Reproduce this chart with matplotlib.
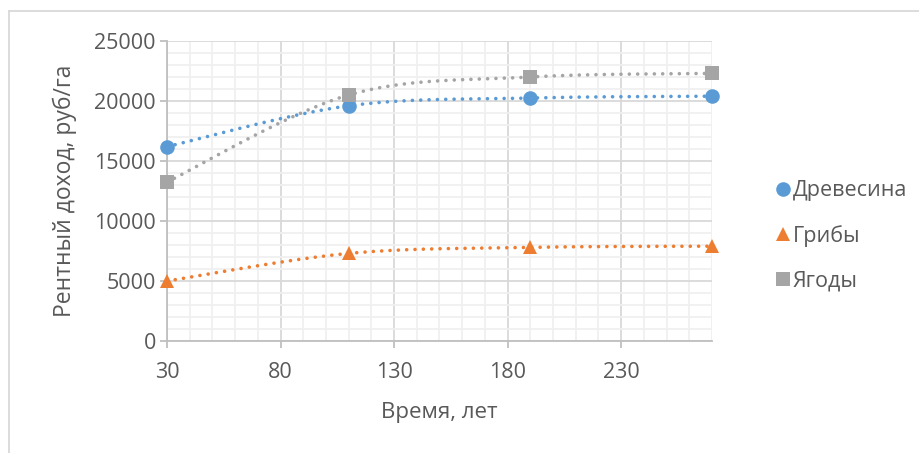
import numpy as np
import matplotlib
matplotlib.use("Agg")
import matplotlib.pyplot as plt
from matplotlib.lines import Line2D
from matplotlib.ticker import MultipleLocator

plt.rcParams['font.family'] = ['Open Sans', 'DejaVu Sans']

years = [30, 110, 190, 270]
wood = [16200, 19600, 20250, 20400]
mushrooms = [5000, 7300, 7800, 7900]
berries = [13250, 20500, 22000, 22300]

names = ['Древесина', 'Грибы', 'Ягоды']
colors = ['#5B9BD5', '#ED7D31', '#A5A5A5']
markers = ['o', '^', 's']
text_color = '#595959'
fs = 15.5


def smooth(x, y, n=60):
    # cardinal spline through the points (bezier with 1/6 tangents), like office charts
    p = np.column_stack([x, y]).astype(float)
    p = np.vstack([p[0], p, p[-1]])
    out = []
    for i in range(1, len(p) - 2):
        p0, p1, p2, p3 = p[i - 1], p[i], p[i + 1], p[i + 2]
        c1 = p1 + (p2 - p0) / 6.0
        c2 = p2 - (p3 - p1) / 6.0
        t = np.linspace(0, 1, n)[:, None]
        seg = ((1 - t) ** 3) * p1 + 3 * ((1 - t) ** 2) * t * c1 + 3 * (1 - t) * t ** 2 * c2 + t ** 3 * p2
        out.append(seg if i == 1 else seg[1:])
    seg = np.vstack(out)
    return seg[:, 0], seg[:, 1]


fig = plt.figure(figsize=(9.2, 4.53), dpi=100)
ax = fig.add_axes([167 / 920, 1 - 341 / 453, (712 - 167) / 920, 300 / 453])

for vals, c, m, name in zip([wood, mushrooms, berries], colors, markers, names):
    sx, sy = smooth(years, vals)
    ax.plot(sx, sy, color=c, lw=2.6, linestyle=(0, (0.01, 2.3)),
            dash_capstyle='round', zorder=3, clip_on=False)
    ax.plot(years, vals, linestyle='none', marker=m, color=c, markersize=10.5,
            markeredgewidth=0, zorder=4, label=name, clip_on=False)

ax.set_xlim(30, 270)
ax.set_ylim(0, 25000)
ax.xaxis.set_major_locator(MultipleLocator(50))
ax.xaxis.set_minor_locator(MultipleLocator(10))
ax.yaxis.set_major_locator(MultipleLocator(5000))
ax.yaxis.set_minor_locator(MultipleLocator(1000))
ax.set_xticks([30, 80, 130, 180, 230])

ax.grid(which='major', color='#d9d9d9', lw=1.3, zorder=0)
ax.grid(which='minor', color='#f0f0f0', lw=1.3, zorder=0)
ax.set_axisbelow(True)

for s in ['top', 'right']:
    ax.spines[s].set_visible(False)
for s in ['left', 'bottom']:
    ax.spines[s].set_color('#bfbfbf')
    ax.spines[s].set_linewidth(1.3)

ax.tick_params(which='major', length=5, width=1.3, color='#bfbfbf',
               labelsize=fs, labelcolor=text_color, pad=3)
ax.tick_params(axis='x', pad=10)
ax.tick_params(which='minor', length=0)

ax.set_xlabel('Время, лет', fontsize=fs + 0.5, color=text_color, labelpad=14)
ax.set_ylabel('Рентный доход, руб/га', fontsize=fs + 1, color=text_color, labelpad=12)

handles = [Line2D([], [], linestyle='none', marker=m, color=c, markersize=10.5,
                  markeredgewidth=0) for m, c in zip(markers, colors)]
fig.legend(handles, names, loc='center left', bbox_to_anchor=(757 / 920, 1 - 236 / 453),
           frameon=False, fontsize=fs, labelcolor=text_color, handlelength=0.6,
           handletextpad=0.15, labelspacing=1.1)

# outer chart frame (light gray)
fig.add_artist(Line2D([9 / 920, 9 / 920], [0, 1 - 11 / 453], color='#d9d9d9', lw=1.3))
fig.add_artist(Line2D([9 / 920, 1], [1 - 11 / 453, 1 - 11 / 453], color='#d9d9d9', lw=1.3))

fig.savefig('out.png', dpi=100)
